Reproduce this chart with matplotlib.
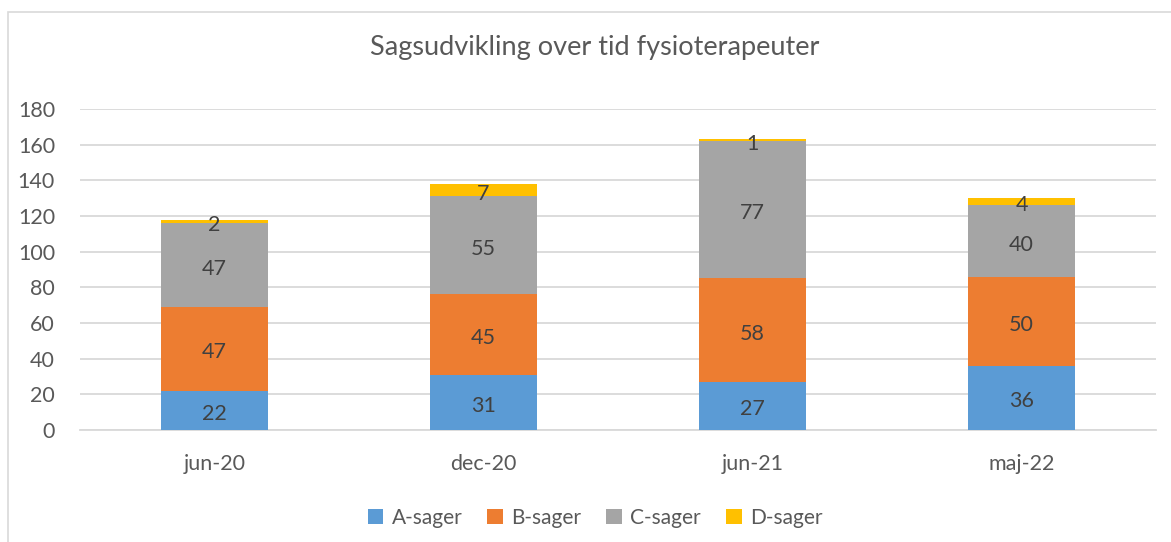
import matplotlib
matplotlib.use("Agg")
import matplotlib.pyplot as plt
from matplotlib.patches import Rectangle
import numpy as np

categories = ["jun-20", "dec-20", "jun-21", "maj-22"]
series_names = ["A-sager", "B-sager", "C-sager", "D-sager"]
a_sager = [22, 31, 27, 36]
b_sager = [47, 45, 58, 50]
c_sager = [47, 55, 77, 40]
d_sager = [2, 7, 1, 4]
colors = ["#5B9BD5", "#ED7D31", "#A5A5A5", "#FFC000"]
title = "Sagsudvikling over tid fysioterapeuter"

plt.rcParams['font.family'] = ['Lato', 'DejaVu Sans']

W, H = 1171, 542
fig = plt.figure(figsize=(W/100, H/100), dpi=100)
ax = fig.add_axes([80/W, (H-430)/H, (1156-80)/W, (430-109)/H])

# outer chart border
fig.patches.append(Rectangle((8/W, -0.1), 1.2, (H-12)/H + 0.1, transform=fig.transFigure,
                             fill=False, edgecolor="#d9d9d9", linewidth=1.2))

x = np.arange(len(categories))
bottom = np.zeros(len(categories))
for name, vals, col in zip(series_names, [a_sager, b_sager, c_sager, d_sager], colors):
    vals = np.array(vals, dtype=float)
    ax.bar(x, vals, width=0.4, bottom=bottom, color=col, label=name, zorder=3)
    for xi, b, v in zip(x, bottom, vals):
        ax.text(xi, b + v/2 - 2, f"{int(v)}", ha="center", va="center", fontsize=15.5,
                color="#404040", zorder=4)
    bottom += vals

ax.set_xlim(-0.5, 3.5)
ax.set_ylim(0, 180)
ax.set_yticks(range(0, 181, 20))
ax.set_xticks(x)
ax.set_xticklabels(categories)
ax.yaxis.grid(True, color="#d9d9d9", linewidth=1.3, zorder=0)
ax.set_axisbelow(True)
for s in ["top", "right", "left"]:
    ax.spines[s].set_visible(False)
ax.spines["bottom"].set_color("#d9d9d9")
ax.spines["bottom"].set_linewidth(1.3)
ax.tick_params(axis="both", length=0, labelsize=15.5, labelcolor="#595959")
ax.tick_params(axis="y", pad=18)
ax.tick_params(axis="x", pad=17)

fig.text(595/W, (H-47)/H, title, ha="center", va="center", fontsize=19.5, color="#595959")

fig.legend(loc="center", bbox_to_anchor=(595/W, (H-518)/H), ncol=4, frameon=False,
           fontsize=15, labelcolor="#595959", handlelength=0.75, handleheight=0.75,
           handletextpad=0.4, columnspacing=1.2)

fig.savefig("out.png", dpi=100)
